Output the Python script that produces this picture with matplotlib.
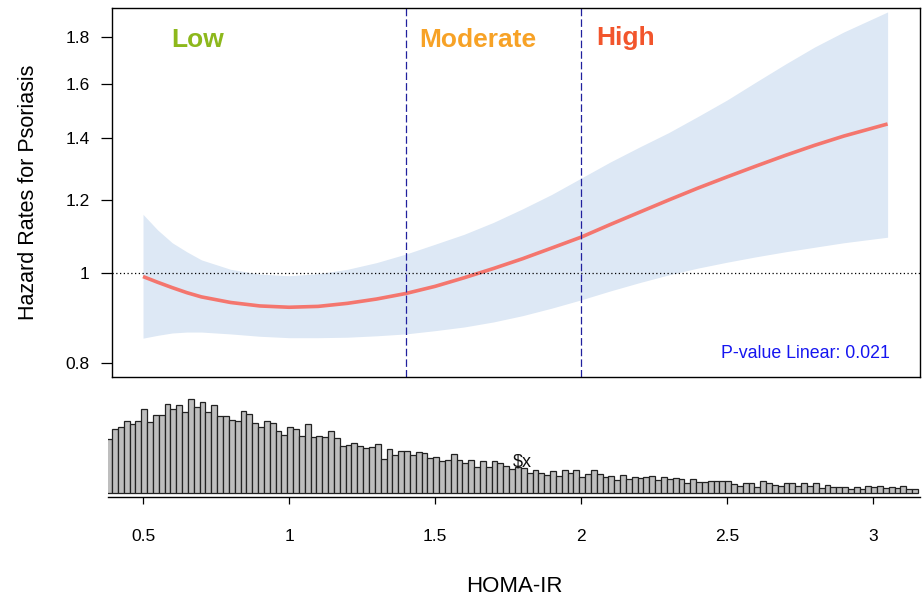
import matplotlib
matplotlib.use("Agg")
import matplotlib.pyplot as plt
from matplotlib.ticker import FixedLocator, FixedFormatter, NullLocator
import numpy as np

plt.rcParams['font.family'] = ['Liberation Sans', 'DejaVu Sans']

# spline estimate and 95% CI
homa = [0.5, 0.55, 0.6, 0.65, 0.7, 0.8, 0.9, 1.0, 1.1, 1.2, 1.3, 1.4, 1.5, 1.6, 1.7, 1.8,
        1.9, 2.0, 2.1, 2.2, 2.3, 2.4, 2.5, 2.6, 2.7, 2.8, 2.9, 3.05]
hr = [0.992, 0.978, 0.965, 0.953, 0.943, 0.930, 0.922, 0.919, 0.921, 0.928, 0.938, 0.951,
      0.968, 0.989, 1.012, 1.037, 1.065, 1.094, 1.129, 1.164, 1.200, 1.236, 1.271, 1.306,
      1.341, 1.375, 1.407, 1.450]
hr_upper = [1.158, 1.114, 1.079, 1.055, 1.034, 1.010, 0.998, 0.994, 0.999, 1.010, 1.027,
            1.049, 1.075, 1.102, 1.135, 1.174, 1.217, 1.267, 1.319, 1.369, 1.419, 1.477,
            1.539, 1.610, 1.683, 1.756, 1.823, 1.916]
hr_lower = [0.851, 0.857, 0.862, 0.864, 0.864, 0.860, 0.855, 0.852, 0.852, 0.853, 0.856,
            0.860, 0.867, 0.875, 0.886, 0.900, 0.917, 0.936, 0.957, 0.977, 0.996, 1.013,
            1.028, 1.042, 1.055, 1.067, 1.079, 1.094]

cutoffs = [1.4, 2.0]
groups = ['Low', 'Moderate', 'High']
group_x = [0.688, 1.647, 2.151]
group_y = [1.789, 1.785, 1.795]
group_colors = ['#8DB81C', '#F7A226', '#F2552C']

# distribution of HOMA-IR (bin width 0.02)
bin_start = 0.374
bin_width = 0.02
hist_counts = [54,
               64, 66, 72, 69, 72, 84, 71, 78, 78, 89, 84, 88, 81, 94, 86, 91, 81, 88, 77, 77, 73, 72,
               82, 79, 70, 66, 72, 70, 62, 58, 66, 64, 57, 69, 56, 57, 56, 62, 55, 47, 48, 50, 47, 45, 46,
               49,
               34, 44, 38, 42, 42, 38, 41, 40, 35, 36, 32, 33, 39, 33, 30, 33, 26, 32, 26, 32, 30, 27, 24,
               26, 25, 20, 23, 20, 18, 22, 17, 23, 20, 23, 16, 19, 23, 19, 16, 17, 13, 18, 14, 16, 15, 16,
               17, 13, 16, 14, 15, 14, 10, 14, 11, 11, 12, 12, 12, 12, 9, 7, 10, 10, 6, 12, 10, 8, 7,
               10, 10, 7, 10, 7, 10, 5, 8, 6, 6, 6, 4, 6, 4, 7, 6, 7, 5, 6, 5, 7, 4, 4]

yticks = [0.8, 1, 1.2, 1.4, 1.6, 1.8]
ytick_labels = ['0.8', '1', '1.2', '1.4', '1.6', '1.8']
xticks = [0.5, 1, 1.5, 2, 2.5, 3]
xtick_labels = ['0.5', '1', '1.5', '2', '2.5', '3']

W, H = 922, 598
fig = plt.figure(figsize=(W / 100, H / 100), dpi=100)

ax = fig.add_axes([112 / W, 1 - 377 / H, (920 - 112) / W, (377 - 8) / H])
ax.fill_between(homa, hr_lower, hr_upper, color='#DDE8F5', lw=0)
ax.plot(homa, hr, color='#F4766E', lw=2.6, solid_capstyle='butt')
ax.axhline(1, color='black', lw=0.9, ls=(0, (1, 2)))
for c in cutoffs:
    ax.axvline(c, color='#20209E', lw=0.9, ls=(0, (6, 2.5)))
for g, gx, gy, gc in zip(groups, group_x, group_y, group_colors):
    ax.text(gx, gy, g, color=gc, fontsize=19, fontweight='bold', ha='center', va='center')
ax.text(3.058, 0.820, 'P-value Linear: 0.021', color='#1515F0', fontsize=12.8,
        ha='right', va='center')

ax.set_yscale('log')
ax.set_xlim(0.3938, 3.161)
ax.set_ylim(0.7726, 1.935)
ax.yaxis.set_major_locator(FixedLocator(yticks))
ax.yaxis.set_major_formatter(FixedFormatter(ytick_labels))
ax.yaxis.set_minor_locator(NullLocator())
ax.set_xticks([])
ax.tick_params(axis='y', length=8, width=0.9, labelsize=12.5, pad=8)
ax.set_ylabel('Hazard Rates for Psoriasis', fontsize=15.5, labelpad=19)
for s in ax.spines.values():
    s.set_linewidth(1.0)

# histogram panel
hx = fig.add_axes([108 / W, 1 - 497 / H, (920 - 108) / W, (497 - 395) / H])
edges = bin_start + bin_width * np.arange(len(hist_counts))
hx.bar(edges, hist_counts, width=bin_width, align='edge', color='#BEBEBE',
       edgecolor='#222222', linewidth=0.9)
hx.text(1.80, 31, r'\$x', fontsize=13, ha='center', va='center', color='#111111')
hx.set_xlim(0.3801, 3.161)
hx.set_ylim(-3.5, 98)
hx.set_yticks([])
hx.set_xticks(xticks)
hx.set_xticklabels(xtick_labels)
hx.tick_params(axis='x', length=5, width=0.9, labelsize=12.5, pad=18)
for side in ['top', 'left', 'right']:
    hx.spines[side].set_visible(False)
hx.spines['bottom'].set_linewidth(1.0)
hx.set_xlabel('HOMA-IR', fontsize=16, labelpad=23)

fig.savefig('out.png', dpi=100)
